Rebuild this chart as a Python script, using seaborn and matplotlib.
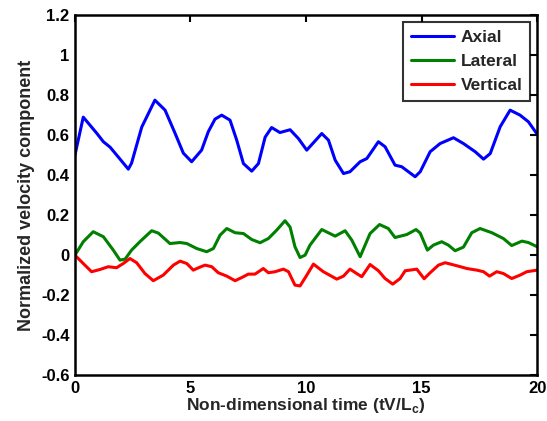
import seaborn as sns
import matplotlib.pyplot as plt
import pandas as pd

# values
axial_t = [0, 0.36, 0.94, 1.23, 1.52, 1.88, 2.31, 2.45, 2.89, 3.46, 3.9, 4.33, 4.69, 5.05, 5.48,
           5.77, 6.06, 6.35, 6.71, 7.0, 7.29, 7.65, 7.94, 8.23, 8.51, 8.87, 9.31, 9.67, 10.03,
           10.68, 10.97, 11.26, 11.62, 11.9, 12.34, 12.63, 13.13, 13.42, 13.85, 14.14, 14.72,
           14.94, 15.37, 15.8, 16.38, 16.81, 17.32, 17.68, 17.97, 18.4, 18.83, 19.26, 19.62, 20.0]
axial_v = [0.50, 0.69, 0.61, 0.567, 0.54, 0.49, 0.43, 0.46, 0.64, 0.775, 0.725, 0.61, 0.51, 0.467,
           0.525, 0.617, 0.68, 0.70, 0.675, 0.575, 0.458, 0.42, 0.458, 0.59, 0.638, 0.613, 0.627,
           0.583, 0.525, 0.608, 0.575, 0.475, 0.408, 0.417, 0.467, 0.483, 0.567, 0.542, 0.45,
           0.442, 0.392, 0.417, 0.517, 0.558, 0.587, 0.558, 0.517, 0.48, 0.508, 0.642, 0.725,
           0.70, 0.667, 0.605]

lateral_t = [0, 0.36, 0.79, 1.23, 1.66, 1.95, 2.17, 2.45, 2.81, 3.32, 3.61, 4.11, 4.55, 4.84,
             5.27, 5.7, 5.99, 6.28, 6.57, 6.93, 7.29, 7.65, 8.01, 8.37, 8.73, 9.09, 9.31, 9.52,
             9.74, 9.96, 10.17, 10.68, 11.26, 11.69, 11.98, 12.34, 12.77, 13.18, 13.56, 13.85,
             14.36, 14.76, 14.94, 15.25, 15.51, 15.87, 16.16, 16.45, 16.81, 17.17, 17.53, 18.04,
             18.54, 18.9, 19.34, 19.62, 20.0]
lateral_v = [0, 0.067, 0.117, 0.092, 0.025, -0.025, -0.02, 0.025, 0.067, 0.122, 0.11, 0.058,
             0.063, 0.058, 0.033, 0.017, 0.033, 0.10, 0.133, 0.112, 0.108, 0.078, 0.062, 0.083,
             0.125, 0.172, 0.14, 0.042, -0.012, 0.0, 0.05, 0.128, 0.095, 0.122, 0.075, -0.008,
             0.108, 0.153, 0.133, 0.088, 0.103, 0.128, 0.11, 0.025, 0.05, 0.067, 0.05, 0.022,
             0.04, 0.112, 0.133, 0.112, 0.083, 0.048, 0.07, 0.063, 0.042]

vertical_t = [0, 0.36, 0.72, 1.08, 1.44, 1.8, 2.09, 2.38, 2.67, 3.03, 3.39, 3.82, 4.26, 4.55,
              4.84, 5.12, 5.41, 5.63, 5.92, 6.2, 6.57, 6.93, 7.22, 7.5, 7.79, 8.15, 8.37, 8.66,
              9.02, 9.24, 9.52, 9.74, 9.98, 10.32, 10.75, 11.33, 11.62, 11.9, 12.19, 12.41, 12.77,
              13.13, 13.42, 13.75, 14.07, 14.29, 14.5, 14.79, 15.11, 15.37, 15.73, 16.02, 16.52,
              16.96, 17.39, 17.68, 17.94, 18.25, 18.54, 18.9, 19.26, 19.55, 20.0]
vertical_v = [0, -0.042, -0.083, -0.072, -0.058, -0.063, -0.042, -0.017, -0.038, -0.092, -0.128,
              -0.10, -0.05, -0.03, -0.042, -0.075, -0.06, -0.05, -0.058, -0.088, -0.105, -0.128,
              -0.112, -0.095, -0.095, -0.067, -0.088, -0.083, -0.07, -0.083, -0.15, -0.154,
              -0.11, -0.045, -0.083, -0.12, -0.105, -0.07, -0.092, -0.108, -0.047, -0.078, -0.117,
              -0.145, -0.117, -0.078, -0.075, -0.07, -0.118, -0.088, -0.05, -0.038, -0.053,
              -0.067, -0.075, -0.083, -0.105, -0.083, -0.092, -0.117, -0.1, -0.083, -0.075]

series = ['Axial', 'Lateral', 'Vertical']
colors = ['#0000ff', '#008000', '#ff0000']

df = pd.concat([
    pd.DataFrame({'t': axial_t, 'v': axial_v, 'comp': 'Axial'}),
    pd.DataFrame({'t': lateral_t, 'v': lateral_v, 'comp': 'Lateral'}),
    pd.DataFrame({'t': vertical_t, 'v': vertical_v, 'comp': 'Vertical'}),
])

sns.set_style('white')
plt.rcParams['font.family'] = ['Liberation Sans', 'DejaVu Sans']
plt.rcParams['font.weight'] = 'bold'
plt.rcParams['mathtext.fontset'] = 'custom'
plt.rcParams['mathtext.bf'] = 'Liberation Sans:bold'
plt.rcParams['mathtext.rm'] = 'Liberation Sans:bold'

fig = plt.figure(figsize=(5.47, 4.21), dpi=100)
ax = fig.add_axes([0.137, 0.109, 0.845, 0.855])

sns.lineplot(data=df, x='t', y='v', hue='comp', hue_order=series,
             palette=dict(zip(series, colors)), linewidth=2.2, sort=False,
             estimator=None, ax=ax)

ax.set_xlim(0, 20)
ax.set_ylim(-0.6, 1.2)
ax.set_xticks([0, 5, 10, 15, 20])
ax.set_yticks([-0.6, -0.4, -0.2, 0, 0.2, 0.4, 0.6, 0.8, 1, 1.2])
ax.set_yticklabels(['-0.6', '-0.4', '-0.2', '0', '0.2', '0.4', '0.6', '0.8', '1', '1.2'])
ax.tick_params(direction='in', length=5, width=1.5, top=True, right=True,
               labelsize=12, colors='black', pad=4)
for lab in ax.get_xticklabels() + ax.get_yticklabels():
    lab.set_fontweight('bold')
for s in ax.spines.values():
    s.set_linewidth(1.8)
    s.set_color('black')

ax.set_xlabel(r'Non-dimensional time (tV/L$_\mathbf{c}$)', fontsize=12.5, fontweight='bold', labelpad=0)
ax.set_ylabel('Normalized velocity component', fontsize=13, fontweight='bold', labelpad=4)

leg = ax.legend(loc='upper right', fontsize=12.5, frameon=True, fancybox=False,
                edgecolor='black', borderaxespad=0.4, handlelength=2.5,
                handletextpad=0.35, labelspacing=0.5, borderpad=0.45)
leg.get_frame().set_linewidth(1.5)
for txt in leg.get_texts():
    txt.set_fontweight('bold')

fig.savefig('out.png', dpi=100)
